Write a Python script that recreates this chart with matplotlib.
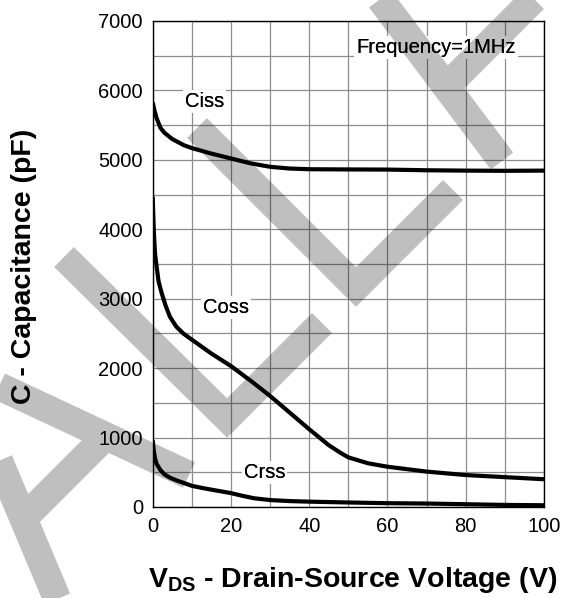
import matplotlib
matplotlib.use('Agg')
import matplotlib.pyplot as plt
import numpy as np
from matplotlib.lines import Line2D
from matplotlib.ticker import MultipleLocator

plt.rcParams['font.family'] = 'Liberation Sans'
plt.rcParams['mathtext.fontset'] = 'custom'
plt.rcParams['mathtext.rm'] = 'Liberation Sans:bold'
plt.rcParams['mathtext.it'] = 'Liberation Sans:bold'
plt.rcParams['mathtext.bf'] = 'Liberation Sans:bold'

# Datos (V, pF)
ciss_v = [0, 0.5, 1, 2, 3, 5, 8, 10, 15, 20, 25, 30, 35, 40, 50, 60, 70, 80, 90, 100]
ciss_c = [5830, 5700, 5600, 5460, 5390, 5300, 5210, 5170, 5090, 5020, 4950, 4900,
          4875, 4865, 4862, 4860, 4850, 4845, 4842, 4845]

coss_v = [0, 0.3, 0.6, 1, 1.5, 2.3, 3.3, 4.4, 6, 7.8, 10, 15, 20, 25, 30, 35, 40,
          45, 48, 50, 55, 60, 70, 80, 90, 100]
coss_c = [4470, 3950, 3650, 3460, 3250, 3080, 2900, 2740, 2600, 2500, 2410, 2210,
          2030, 1820, 1600, 1360, 1120, 890, 780, 715, 630, 580, 510, 460, 430, 400]

crss_v = [0, 0.3, 0.6, 1, 2, 3, 4.5, 6, 8, 10, 13, 16, 20, 23, 26, 30, 35, 40, 50,
          60, 70, 80, 90, 100]
crss_c = [960, 800, 700, 620, 530, 470, 420, 385, 345, 305, 270, 240, 200, 160, 125,
          100, 85, 77, 65, 55, 50, 40, 30, 25]

curve_names = ['Ciss', 'Coss', 'Crss']
label_x = [8.3, 12.9, 23.3]
label_y = [5761, 2794, 413]

x_ticks = [0, 20, 40, 60, 80, 100]
y_ticks = [0, 1000, 2000, 3000, 4000, 5000, 6000, 7000]

W, H = 563, 598

# Marca de agua (trazos en pixeles de la imagen)
marca = [
    [(197, 128), (356, 287), (453, 190)],
    [(64, 257), (227, 418), (322, 323)],
    [(366, -20), (502, 161)],
    [(455, 78), (545, -12)],
    [(-40, 368), (189, 475)],
    [(-40, 368), (66, 620)],
    [(102, 440), (26, 516)],
]

fig = plt.figure(figsize=(W / 100, H / 100), dpi=100)
ax = fig.add_axes([152.7 / W, 1 - 507 / H, (544 - 152.7) / W, (507 - 21) / H])

for v, c in [(ciss_v, ciss_c), (coss_v, coss_c), (crss_v, crss_c)]:
    ax.plot(v, c, color='black', lw=3, zorder=3, solid_joinstyle='round',
            solid_capstyle='butt')

ax.set_xlim(0, 100)
ax.set_ylim(0, 7000)
ax.set_xticks(x_ticks)
ax.set_yticks(y_ticks)
ax.xaxis.set_minor_locator(MultipleLocator(10))
ax.yaxis.set_minor_locator(MultipleLocator(500))
ax.grid(which='both', color='#8c8c8c', lw=0.9)
ax.tick_params(which='both', length=0, labelsize=14.5, pad=7)
for s in ax.spines.values():
    s.set_linewidth(1.0)
    s.set_color('black')

# etiquetas con fondo blanco (debajo de la marca) y texto encima
textos = list(zip(curve_names, label_x, label_y)) + [('Frequency=1MHz', 52.0, 6535)]
for t, x, y in textos:
    ax.text(x, y, t, fontsize=14.5, ha='left', va='baseline', zorder=2,
            bbox=dict(fc='white', ec='none', pad=1.5))
    ax.text(x, y, t, fontsize=14.5, ha='left', va='baseline', zorder=4)

xs, ys = [], []
for trazo in marca:
    for px, py in trazo:
        xs.append(px / W)
        ys.append(1 - py / H)
    xs.append(np.nan)
    ys.append(np.nan)
wm = Line2D(xs, ys, transform=fig.transFigure, color='black', alpha=0.25,
            lw=20.2, solid_capstyle='butt', solid_joinstyle='miter', zorder=2.2,
            clip_on=False)
ax.add_artist(wm)

fig.text(353 / W, 1 - 587 / H, r'$V_{DS}$ - Drain-Source Voltage (V)', ha='center',
         va='baseline', fontsize=20.5, fontweight='bold', zorder=5)
fig.text(31 / W, 1 - 266 / H, 'C - Capacitance (pF)', rotation=90, ha='center',
         va='baseline', rotation_mode='anchor', fontsize=20.5, fontweight='bold', zorder=5)

fig.savefig('out.png', dpi=100)
